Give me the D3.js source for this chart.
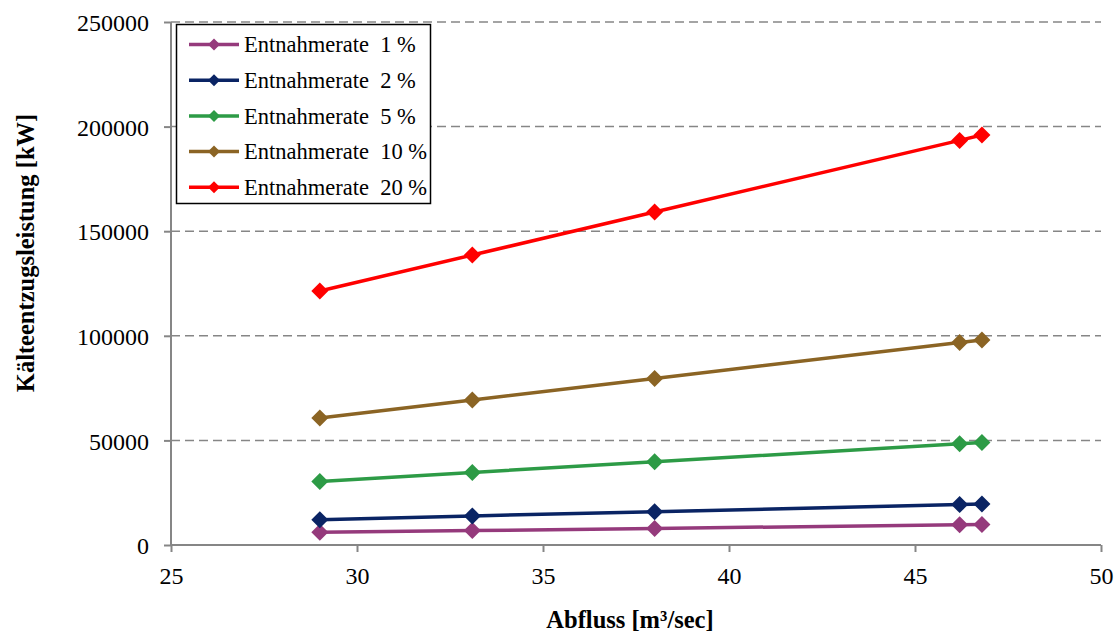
<!DOCTYPE html>
<html>
<head>
<meta charset="utf-8">
<script src="https://cdn.jsdelivr.net/npm/d3@7"></script>
<style>
  html, body { margin: 0; padding: 0; background: #ffffff; }
  svg { display: block; font-family: "Liberation Serif", "Times New Roman", serif; }
</style>
</head>
<body>
<svg id="chart" width="1120" height="637"></svg>
<script>
// ---- data ----
const flows = [29.0, 33.1, 38.0, 46.2, 46.8];
const seriesNames = ["Entnahmerate  1 %", "Entnahmerate  2 %", "Entnahmerate  5 %", "Entnahmerate  10 %", "Entnahmerate  20 %"];
const rate1 = [6100, 6900, 7900, 9700, 9800];
const rate2 = [12100, 13900, 15900, 19300, 19600];
const rate5 = [30300, 34700, 39800, 48400, 49000];
const rate10 = [60700, 69300, 79600, 96800, 98000];
const rate20 = [121400, 138600, 159200, 193400, 196000];
const xTicks = [25, 30, 35, 40, 45, 50];
const yTicks = [0, 50000, 100000, 150000, 200000, 250000];
const seriesColors = ["#953A7C", "#0A2464", "#2D9B46", "#8B6424", "#FF0000"];
const xTitle = "Abfluss [m³/sec]";
const yTitle = "Kälteentzugsleistung [kW]";

const seriesValues = [rate1, rate2, rate5, rate10, rate20];

(function () {
const svg = d3.select("#chart");
const pLeft = 171, pRight = 1101, pTop = 22, pBottom = 545;

const x = d3.scaleLinear().domain([25, 50]).range([pLeft, pRight]);
const y = d3.scaleLinear().domain([0, 250000]).range([pBottom, pTop]);

const axisColor = "#868686";

// gridlines
svg.append("g").selectAll("line")
  .data(yTicks.filter(d => d > 0))
  .join("line")
  .attr("x1", pLeft).attr("x2", pRight)
  .attr("y1", d => y(d)).attr("y2", d => y(d))
  .attr("stroke", axisColor).attr("stroke-width", 1.5)
  .attr("stroke-dasharray", "9,5");

// y axis
const yAxis = d3.axisLeft(y).tickValues(yTicks).tickSize(7).tickPadding(15).tickFormat(d3.format("d"));
const gy = svg.append("g").attr("transform", `translate(${pLeft},0)`).call(yAxis);
gy.select(".domain").attr("stroke", axisColor).attr("stroke-width", 2).attr("d", `M0,${pTop}V${pBottom}`);
gy.selectAll(".tick line").attr("stroke", axisColor).attr("stroke-width", 2);
gy.selectAll(".tick text").attr("font-size", 24).attr("fill", "#000")
  .attr("font-family", "Liberation Serif").attr("dy", "0.36em");

// x axis
const xAxis = d3.axisBottom(x).tickValues(xTicks).tickSize(7).tickPadding(15).tickFormat(d3.format("d"));
const gx = svg.append("g").attr("transform", `translate(0,${pBottom})`).call(xAxis);
gx.select(".domain").attr("stroke", axisColor).attr("stroke-width", 2).attr("d", `M${pLeft},0H${pRight}`);
gx.selectAll(".tick line").attr("stroke", axisColor).attr("stroke-width", 2);
gx.selectAll(".tick text").attr("font-size", 24).attr("fill", "#000")
  .attr("font-family", "Liberation Serif");

// series
const line = d3.line().x(d => x(d[0])).y(d => y(d[1]));
const diamond = (cx, cy, r) => `M${cx},${cy - r}L${cx + r},${cy}L${cx},${cy + r}L${cx - r},${cy}Z`;

seriesValues.forEach((vals, i) => {
  const pts = flows.map((f, j) => [f, vals[j]]);
  const g = svg.append("g");
  g.append("path").attr("d", line(pts)).attr("fill", "none")
    .attr("stroke", seriesColors[i]).attr("stroke-width", 3.5);
  g.selectAll("path.m").data(pts).join("path").attr("class", "m")
    .attr("d", d => diamond(x(d[0]), y(d[1]), 8.5))
    .attr("fill", seriesColors[i]);
});

// legend
const lg = svg.append("g");
lg.append("rect").attr("x", 176.5).attr("y", 24.5).attr("width", 254).attr("height", 179)
  .attr("fill", "#fff").attr("stroke", "#000").attr("stroke-width", 1.5);
seriesNames.forEach((name, i) => {
  const cy = 44.5 + i * 35.7;
  lg.append("line").attr("x1", 189).attr("x2", 239).attr("y1", cy).attr("y2", cy)
    .attr("stroke", seriesColors[i]).attr("stroke-width", 3.5);
  lg.append("path").attr("d", diamond(214, cy, 6)).attr("fill", seriesColors[i]);
  lg.append("text").attr("x", 244).attr("y", cy).attr("dy", "0.35em")
    .attr("font-size", 22.5).attr("fill", "#000")
    .style("white-space", "pre")
    .text(name);
});

// axis titles
svg.append("text").attr("x", 630).attr("y", 628).attr("text-anchor", "middle")
  .attr("font-size", 24.5).attr("font-weight", "bold").attr("fill", "#000").text(xTitle);
svg.append("text").attr("transform", "translate(34,253) rotate(-90)").attr("text-anchor", "middle")
  .attr("font-size", 24.5).attr("font-weight", "bold").attr("fill", "#000").text(yTitle);
})();
</script>
</body>
</html>
